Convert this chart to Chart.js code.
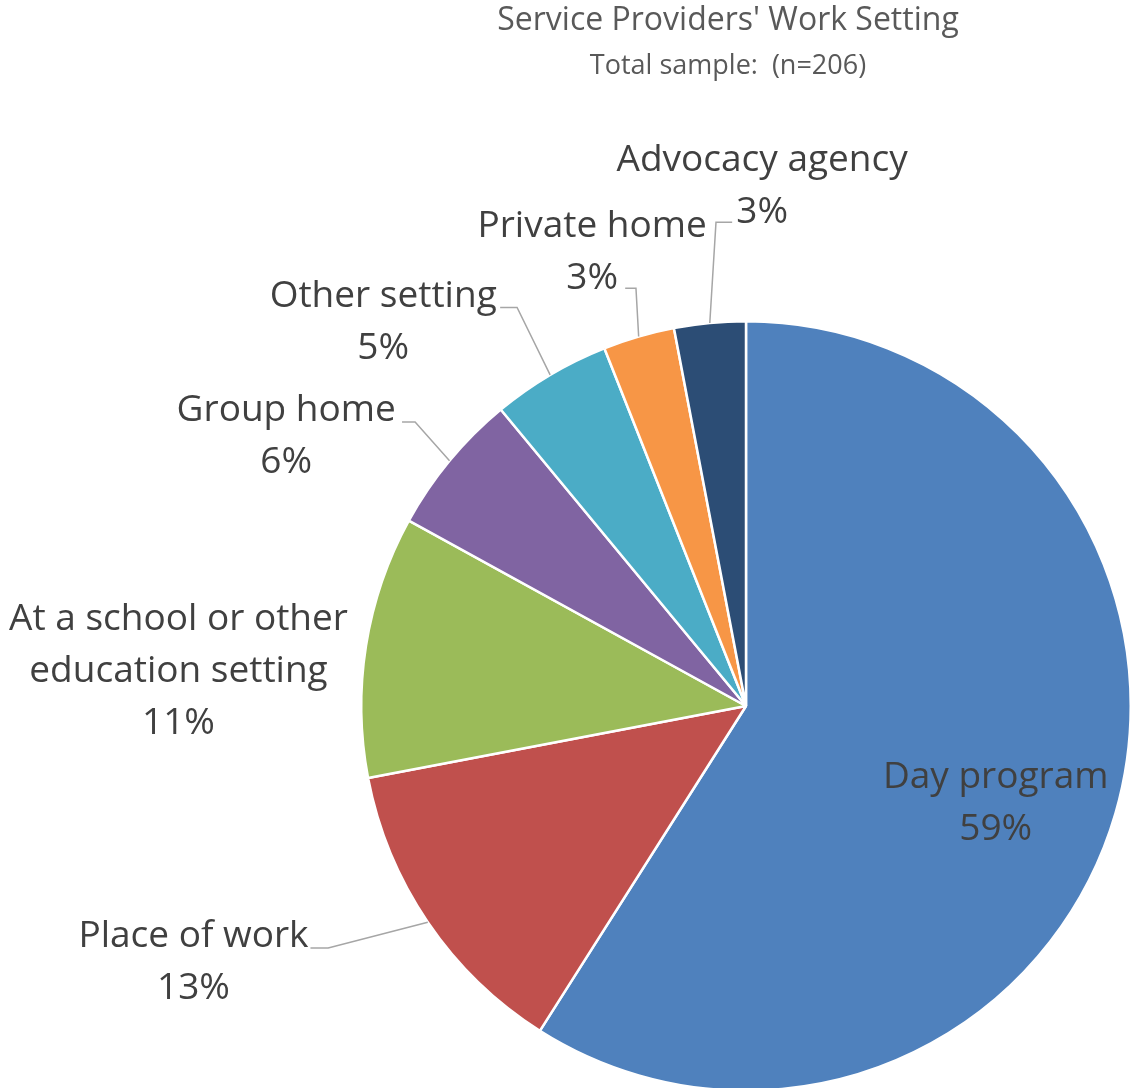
<!DOCTYPE html>
<html>
<head>
<meta charset="utf-8">
<script src="https://cdn.jsdelivr.net/npm/chart.js@4.4.0/dist/chart.umd.min.js"></script>
<style>
  html, body { margin: 0; padding: 0; background: #fff; overflow: hidden; }
  #wrap { position: relative; width: 1134px; height: 1096px; }
</style>
</head>
<body>
<div id="wrap"><canvas id="chart-area"></canvas></div>
<script>
// data (percent of n=206)
var categories = [
    "Day program",
    "Place of work",
    ["At a school or other", "education setting"],
    "Group home",
    "Other setting",
    "Private home",
    "Advocacy agency"
];
var shares = [59, 13, 11, 6, 5, 3, 3];
var sliceColors = ["#4F81BD", "#C0504D", "#9BBB59", "#8064A2", "#4BACC6", "#F79646", "#2C4D75"];

var titleText = "Service Providers' Work Setting";
var subtitleText = "Total sample:  (n=206)";

// label placement, in units of the pie radius from its centre
// [labelX, labelY, elbowX, elbowY, endX] ; elbow null = no leader line
var labelSpots = [
    [0.649, 0.254, null],
    [-1.436, 0.666, -1.086, 0.629, -1.132],
    [-1.475, -0.091, null],
    [-1.195, -0.701, -0.860, -0.738, -0.894],
    [-0.943, -0.997, -0.595, -1.036, -0.639],
    [-0.400, -1.179, -0.286, -1.086, -0.314],
    [0.042, -1.350, -0.078, -1.257, -0.036]
];

var FONT = '"Open Sans", "Noto Sans", sans-serif';

var pieLabels = {
    id: 'pieLabels',
    afterDatasetsDraw: function (chart) {
        var ctx = chart.ctx;
        var meta = chart.getDatasetMeta(0);
        ctx.save();
        meta.data.forEach(function (arc, i) {
            var r = arc.outerRadius, cx = arc.x, cy = arc.y;
            var spot = labelSpots[i];
            var mid = (arc.startAngle + arc.endAngle) / 2;
            if (spot[2] !== null) {
                ctx.strokeStyle = '#A6A6A6';
                ctx.lineWidth = 1.5;
                ctx.beginPath();
                ctx.moveTo(cx + Math.cos(mid) * r, cy + Math.sin(mid) * r);
                ctx.lineTo(cx + spot[2] * r, cy + spot[3] * r);
                ctx.lineTo(cx + spot[4] * r, cy + spot[3] * r);
                ctx.stroke();
            }
            var name = chart.data.labels[i];
            var lines = (Array.isArray(name) ? name.slice() : [name]);
            lines.push(shares[i] + '%');
            var lh = 52;
            var x = cx + spot[0] * r;
            var y = cy + spot[1] * r - (lines.length - 1) * lh / 2;
            ctx.fillStyle = '#404040';
            ctx.font = '37px ' + FONT;
            ctx.textAlign = 'center';
            ctx.textBaseline = 'middle';
            lines.forEach(function (t, k) {
                ctx.fillText(t, x, y + k * lh);
            });
        });
        // titles
        ctx.fillStyle = '#595959';
        ctx.textAlign = 'center';
        ctx.textBaseline = 'middle';
        ctx.font = '32px ' + FONT;
        ctx.fillText(titleText, 728, 21);
        ctx.font = '27px ' + FONT;
        ctx.fillText(subtitleText, 728, 66);
        ctx.restore();
    }
};

var config = {
    type: 'pie',
    data: {
        labels: categories,
        datasets: [{
            data: shares,
            backgroundColor: sliceColors,
            borderColor: '#FFFFFF',
            borderWidth: 2.5
        }]
    },
    options: {
        responsive: true,
        maintainAspectRatio: false,
        animation: false,
        layout: {
            padding: { left: 360, right: 2, top: 320, bottom: 4 }
        },
        plugins: {
            legend: { display: false },
            tooltip: { enabled: false }
        }
    },
    plugins: [pieLabels]
};

var ctx = document.getElementById("chart-area").getContext("2d");
var myPie = new Chart(ctx, config);
</script>
</body>
</html>
